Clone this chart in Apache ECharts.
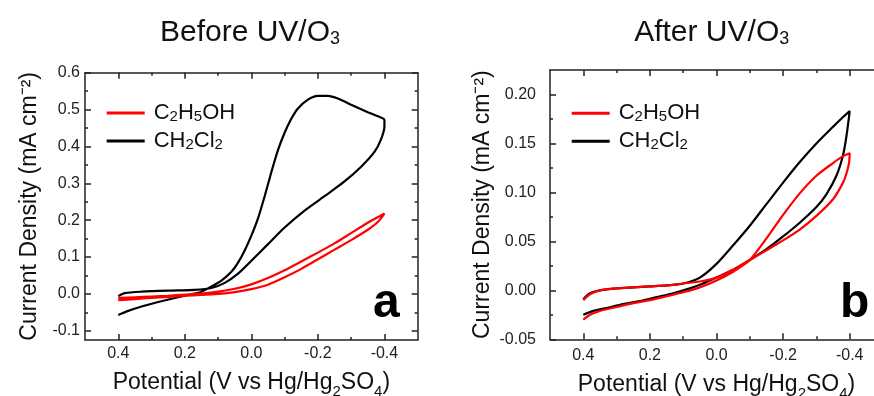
<!DOCTYPE html>
<html>
<head>
<meta charset="utf-8">
<script src="https://cdn.jsdelivr.net/npm/echarts@6/dist/echarts.min.js"></script>
<style>
  html, body { margin: 0; padding: 0; background: #fff; }
  #chart { width: 874px; height: 396px; }
</style>
</head>
<body>
<div id="chart"></div>
<script>
// ---------- DATA ----------
// Panel a (Before UV/O3): potential (V vs Hg/Hg2SO4) and current density (mA cm-2)
const aBlackV = [0.40, 0.37, 0.33, 0.28, 0.23, 0.18, 0.15, 0.12, 0.09, 0.06, 0.04, 0.02, 0.00, -0.02, -0.04, -0.06, -0.08, -0.10, -0.12, -0.14, -0.17, -0.20, -0.23, -0.26, -0.30, -0.35, -0.39, -0.40,
                 -0.40, -0.39, -0.37, -0.33, -0.28, -0.22, -0.16, -0.10, -0.05, 0.00, 0.04, 0.08, 0.12, 0.17, 0.25, 0.33, 0.38, 0.40];
const aBlackI = [-0.057, -0.046, -0.034, -0.022, -0.011, -0.001, 0.006, 0.020, 0.036, 0.060, 0.085, 0.118, 0.158, 0.205, 0.265, 0.330, 0.390, 0.437, 0.475, 0.503, 0.527, 0.537, 0.537, 0.530, 0.513, 0.493, 0.478, 0.472,
                 0.455, 0.420, 0.385, 0.345, 0.305, 0.265, 0.226, 0.180, 0.135, 0.090, 0.055, 0.030, 0.016, 0.011, 0.009, 0.006, 0.002, -0.006];
const aRedV = [0.40, 0.35, 0.30, 0.25, 0.20, 0.15, 0.10, 0.05, 0.00, -0.05, -0.10, -0.15, -0.20, -0.25, -0.30, -0.35, -0.38, -0.40,
               -0.38, -0.35, -0.30, -0.25, -0.20, -0.15, -0.10, -0.05, 0.00, 0.05, 0.10, 0.15, 0.20, 0.25, 0.30, 0.35, 0.40];
const aRedI = [-0.017, -0.014, -0.011, -0.008, -0.005, -0.003, 0.000, 0.005, 0.013, 0.025, 0.045, 0.068, 0.094, 0.120, 0.146, 0.174, 0.195, 0.218,
               0.208, 0.193, 0.165, 0.137, 0.112, 0.088, 0.064, 0.043, 0.026, 0.014, 0.006, 0.001, -0.002, -0.005, -0.007, -0.009, -0.011];

// Panel b (After UV/O3)
const bBlackV = [0.40, 0.37, 0.33, 0.28, 0.23, 0.18, 0.13, 0.08, 0.04, 0.00, -0.05, -0.10, -0.15, -0.20, -0.25, -0.30, -0.33, -0.36, -0.38, -0.39, -0.40,
                 -0.38, -0.35, -0.30, -0.25, -0.20, -0.15, -0.10, -0.05, 0.00, 0.05, 0.10, 0.15, 0.20, 0.25, 0.30, 0.35, 0.38, 0.40];
const bBlackI = [-0.025, -0.021, -0.018, -0.014, -0.011, -0.007, -0.003, 0.002, 0.007, 0.013, 0.021, 0.031, 0.042, 0.055, 0.069, 0.085, 0.098, 0.117, 0.138, 0.157, 0.183,
                 0.177, 0.167, 0.150, 0.131, 0.110, 0.088, 0.066, 0.046, 0.027, 0.013, 0.007, 0.005, 0.004, 0.003, 0.002, 0.000, -0.003, -0.009];
const bRedV = [0.40, 0.38, 0.35, 0.30, 0.25, 0.20, 0.15, 0.10, 0.05, 0.00, -0.05, -0.10, -0.15, -0.20, -0.25, -0.30, -0.35, -0.38, -0.40,
               -0.398, -0.39, -0.38, -0.35, -0.30, -0.25, -0.20, -0.15, -0.10, -0.05, 0.00, 0.05, 0.10, 0.15, 0.20, 0.25, 0.30, 0.35, 0.38, 0.40];
const bRedI = [-0.030, -0.025, -0.021, -0.017, -0.013, -0.010, -0.006, -0.002, 0.003, 0.010, 0.019, 0.031, 0.053, 0.077, 0.099, 0.117, 0.130, 0.137, 0.140,
               0.130, 0.119, 0.110, 0.093, 0.076, 0.062, 0.051, 0.041, 0.031, 0.021, 0.013, 0.009, 0.007, 0.005, 0.004, 0.003, 0.002, 0.000, -0.004, -0.010];

// Tick values
const xMajorTicks = [-0.4, -0.2, 0, 0.2, 0.4];
const xMinorTicks = [-0.3, -0.1, 0.1, 0.3];
const aYMajorTicks = [-0.1, 0, 0.1, 0.2, 0.3, 0.4, 0.5, 0.6];
const aYMinorTicks = [-0.05, 0.05, 0.15, 0.25, 0.35, 0.45, 0.55];
const bYMajorTicks = [-0.05, 0, 0.05, 0.10, 0.15, 0.20];
const bYMinorTicks = [-0.025, 0.025, 0.075, 0.125, 0.175];

const seriesNames = ['C2H5OH', 'CH2Cl2'];
const panelTitles = ['Before UV/O', 'After UV/O'];
const panelLetters = ['a', 'b'];
const yAxisTitle = 'Current Density (mA cm\u207B\u00B2)';

// ---------- CHART ----------
const FF = "'Liberation Sans', Arial, Helvetica, sans-serif";
const AX = '#222';
const pairs = (v, i) => v.map((x, k) => [x, i[k]]);

const grids = [
  { left: 85, top: 72.7, width: 332.7, height: 267.3, outerBoundsMode: 'none', containLabel: false },
  { left: 550, top: 70, width: 333, height: 269.3, outerBoundsMode: 'none', containLabel: false }
];

const xNameRich = {
  n: { fontSize: 23, fontFamily: FF, color: '#111', lineHeight: 26 },
  s: { fontSize: 15, fontFamily: FF, color: '#111', lineHeight: 16, padding: [19, 0, 0, 0] }
};

function xAxes(g, labelMargin, nameGap) {
  const base = { gridIndex: g, type: 'value', min: -0.5, max: 0.5, inverse: true, splitLine: { show: false } };
  return [
    Object.assign({}, base, {
      position: 'bottom',
      axisLine: { show: true, onZero: false, lineStyle: { color: AX, width: 1.5 } },
      axisTick: { show: true, inside: true, length: 6, customValues: xMajorTicks, lineStyle: { color: AX, width: 1.5 } },
      axisLabel: { show: true, margin: labelMargin, customValues: xMajorTicks, fontSize: 16, fontFamily: FF, color: AX,
                   formatter: v => (Math.abs(v) < 1e-9 ? 0 : v).toFixed(1) },
      name: '{n|Potential (V vs Hg/Hg}{s|2}{n|SO}{s|4}{n|)}',
      nameLocation: 'middle', nameGap: nameGap, nameMoveOverlap: false,
      nameTextStyle: { fontFamily: FF, fontSize: 23, color: '#111', rich: xNameRich }
    }),
    Object.assign({}, base, {
      position: 'bottom',
      axisLine: { show: false, onZero: false },
      axisTick: { show: true, inside: true, length: 3, customValues: xMinorTicks, lineStyle: { color: AX, width: 1.5 } },
      axisLabel: { show: false }
    }),
    Object.assign({}, base, {
      position: 'top',
      axisLine: { show: true, onZero: false, lineStyle: { color: AX, width: 1.5 } },
      axisTick: { show: true, inside: true, length: 6, customValues: xMajorTicks, lineStyle: { color: AX, width: 1.5 } },
      axisLabel: { show: false }
    }),
    Object.assign({}, base, {
      position: 'top',
      axisLine: { show: false, onZero: false },
      axisTick: { show: true, inside: true, length: 3, customValues: xMinorTicks, lineStyle: { color: AX, width: 1.5 } },
      axisLabel: { show: false }
    })
  ];
}

function yAxes(g, min, max, major, minor, digits, labelMargin, nameGap) {
  const base = { gridIndex: g, type: 'value', min: min, max: max, splitLine: { show: false } };
  return [
    Object.assign({}, base, {
      position: 'left',
      axisLine: { show: true, onZero: false, lineStyle: { color: AX, width: 1.5 } },
      axisTick: { show: true, inside: true, length: 6, customValues: major, lineStyle: { color: AX, width: 1.5 } },
      axisLabel: { show: true, margin: labelMargin, customValues: major, fontSize: 16, fontFamily: FF, color: AX,
                   formatter: v => (Math.abs(v) < 1e-9 ? 0 : v).toFixed(digits) },
      name: yAxisTitle,
      nameLocation: 'middle', nameRotate: 90, nameGap: nameGap, nameMoveOverlap: false,
      nameTextStyle: { fontFamily: FF, fontSize: 23, lineHeight: 26, color: '#111' }
    }),
    Object.assign({}, base, {
      position: 'left',
      axisLine: { show: false, onZero: false },
      axisTick: { show: true, inside: true, length: 3, customValues: minor, lineStyle: { color: AX, width: 1.5 } },
      axisLabel: { show: false }
    }),
    Object.assign({}, base, {
      position: 'right',
      axisLine: { show: true, onZero: false, lineStyle: { color: AX, width: 1.5 } },
      axisTick: { show: true, inside: true, length: 6, customValues: major, lineStyle: { color: AX, width: 1.5 } },
      axisLabel: { show: false }
    }),
    Object.assign({}, base, {
      position: 'right',
      axisLine: { show: false, onZero: false },
      axisTick: { show: true, inside: true, length: 3, customValues: minor, lineStyle: { color: AX, width: 1.5 } },
      axisLabel: { show: false }
    })
  ];
}

const legendRich = {
  f: { fontSize: 22, fontFamily: FF, color: '#111', lineHeight: 22, verticalAlign: 'bottom', padding: [0, 0, 0, 4] },
  n: { fontSize: 22, fontFamily: FF, color: '#111', lineHeight: 22, verticalAlign: 'bottom' },
  s: { fontSize: 15, fontFamily: FF, color: '#111', lineHeight: 15, verticalAlign: 'bottom' }
};
const legendFormatter = name => name === 'C2H5OH'
  ? '{f|C}{s|2}{n|H}{s|5}{n|OH}'
  : '{f|CH}{s|2}{n|Cl}{s|2}';

function legendAt(left, top) {
  return {
    data: seriesNames, orient: 'vertical', left: left, top: top, padding: 0,
    itemWidth: 38, itemHeight: 3, itemGap: 6, icon: 'rect', selectedMode: false,
    itemStyle: { borderWidth: 0 },
    formatter: legendFormatter,
    textStyle: { fontFamily: FF, fontSize: 22, color: '#111', rich: legendRich }
  };
}

function lineSeries(name, color, v, i, xi, yi) {
  return {
    type: 'line', name: name, xAxisIndex: xi, yAxisIndex: yi,
    data: pairs(v, i), symbol: 'none', showSymbol: false, smooth: 0.25,
    lineStyle: { color: color, width: 2.2 }, itemStyle: { color: color },
    z: color === '#000000' ? 3 : 4
  };
}

function titleText(x, y, txt) {
  return {
    type: 'text', x: x, y: y, silent: true,
    style: {
      text: '{n|' + txt + '}{s|3}',
      align: 'center', textAlign: 'center', verticalAlign: 'bottom', textVerticalAlign: 'bottom',
      rich: {
        n: { fontSize: 30, fontFamily: FF, fill: '#111', color: '#111', lineHeight: 30, verticalAlign: 'bottom' },
        s: { fontSize: 18, fontFamily: FF, fill: '#111', color: '#111', lineHeight: 22, verticalAlign: 'bottom' }
      }
    }
  };
}
function letterText(x, y, txt) {
  return {
    type: 'text', x: x, y: y, silent: true,
    style: {
      text: txt, font: 'bold 48px ' + FF, fill: '#000',
      align: 'left', textAlign: 'left', verticalAlign: 'bottom', textVerticalAlign: 'bottom'
    }
  };
}

const option = {
  animation: false,
  backgroundColor: '#ffffff',
  grid: grids,
  xAxis: xAxes(0, 6, 29.4).concat(xAxes(1, 8, 32.1)),
  yAxis: yAxes(0, -0.125, 0.6, aYMajorTicks, aYMinorTicks, 1, 5, 42.6)
    .concat(yAxes(1, -0.05, 0.225, bYMajorTicks, bYMinorTicks, 2, 14, 54.3)),
  legend: [legendAt(106.7, 102), legendAt(571.7, 102.3)],
  graphic: [
    titleText(250, 47.6, panelTitles[0]),
    titleText(711.7, 47.6, panelTitles[1]),
    letterText(373, 327.5, panelLetters[0]),
    letterText(840, 327.5, panelLetters[1])
  ],
  series: [
    lineSeries(seriesNames[1], '#000000', aBlackV, aBlackI, 0, 0),
    lineSeries(seriesNames[0], '#ff0000', aRedV, aRedI, 0, 0),
    lineSeries(seriesNames[1], '#000000', bBlackV, bBlackI, 4, 4),
    lineSeries(seriesNames[0], '#ff0000', bRedV, bRedI, 4, 4)
  ]
};

const chart = echarts.init(document.getElementById('chart'), null, { renderer: 'canvas' });
chart.setOption(option);
</script>
</body>
</html>
